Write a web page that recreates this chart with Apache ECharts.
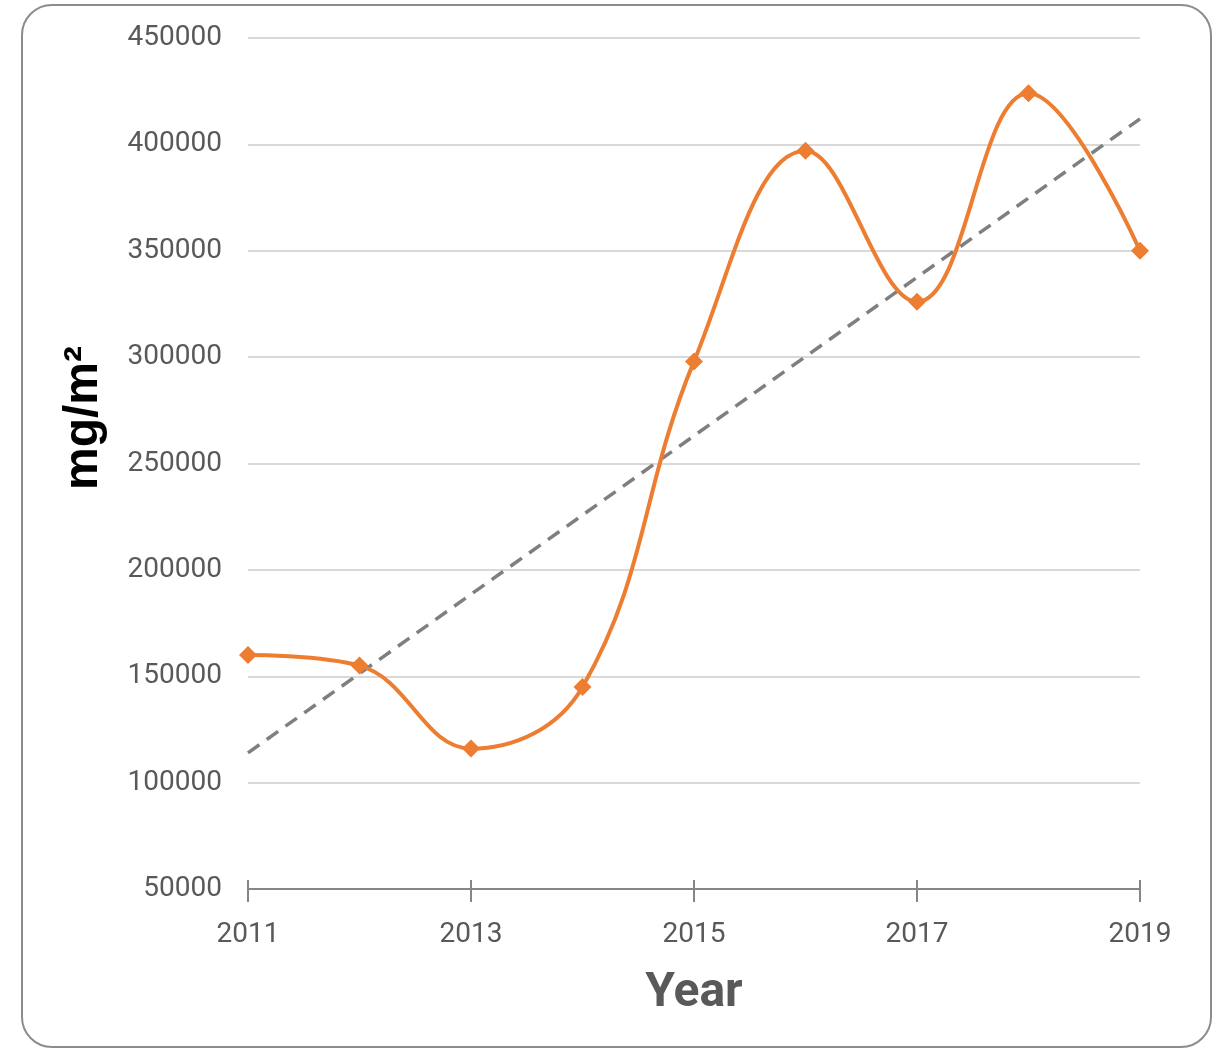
<!DOCTYPE html>
<html>
<head>
<meta charset="utf-8">
<script src="https://cdn.jsdelivr.net/npm/echarts@6/dist/echarts.min.js"></script>
<style>
  html, body { margin: 0; padding: 0; background: #fff; }
  #main { width: 1218px; height: 1050px; }
</style>
</head>
<body>
<div id="main"></div>
<script>
  // data
  const years = ['2011', '2012', '2013', '2014', '2015', '2016', '2017', '2018', '2019']
  const values = [160000, 155000, 116000, 145000, 298000, 397000, 326000, 424000, 350000]
  // linear trend, ends only (middle left empty and joined)
  const trend = [114000, null, null, null, null, null, null, null, 412000]

  const labelFont = 'Roboto'
  var myChart = echarts.init(document.getElementById('main'))

  var option = {
    backgroundColor: '#fff',
    animation: false,
    graphic: [{
      type: 'rect',
      shape: { x: 22, y: 5, width: 1189, height: 1042, r: 30 },
      style: { fill: 'none', stroke: '#8c8c8c', lineWidth: 2 },
      z: -1
    }, {
      // y axis title, sits a bit above the middle of the plot
      type: 'text',
      x: 84,
      y: 418,
      rotation: Math.PI / 2,
      style: {
        text: 'mg/m²',
        align: 'center',
        verticalAlign: 'middle',
        font: 'bold 48px "Liberation Sans"',
        fill: '#000'
      }
    }],
    grid: { left: 248, right: 78, top: 38, bottom: 161 },
    xAxis: [{
      type: 'category',
      data: years,
      boundaryGap: false,
      name: 'Year',
      nameLocation: 'middle',
      nameGap: 81,
      nameTextStyle: { fontFamily: labelFont, fontSize: 48, fontWeight: 'bold', color: '#595959' },
      axisLine: { lineStyle: { color: '#868686', width: 2 } },
      axisTick: { interval: 1, length: 13, lineStyle: { color: '#868686', width: 2 } },
      axisLabel: { interval: 1, margin: 32, fontFamily: labelFont, fontSize: 28, color: '#595959' },
      splitLine: { show: false }
    }, {
      // second axis only for the upper half of the tick marks
      type: 'category',
      data: years,
      boundaryGap: false,
      position: 'bottom',
      axisLine: { show: false },
      axisTick: { inside: true, interval: 1, length: 9, lineStyle: { color: '#868686', width: 2 } },
      axisLabel: { show: false },
      splitLine: { show: false }
    }],
    yAxis: {
      type: 'value',
      min: 50000,
      max: 450000,
      interval: 50000,
      axisLine: { show: false },
      axisTick: { show: false },
      axisLabel: {
        margin: 26, fontFamily: labelFont, fontSize: 28, color: '#595959',
        formatter: function (v) { return String(v) }
      },
      splitLine: { lineStyle: { color: '#d9d9d9', width: 2 } }
    },
    series: [{
      name: 'mg/m2',
      type: 'line',
      data: values,
      smooth: 0.4,
      symbol: 'diamond',
      symbolSize: 18,
      itemStyle: { color: '#ed7d31' },
      lineStyle: { color: '#ed7d31', width: 4 },
      z: 3
    }, {
      name: 'trend',
      type: 'line',
      data: trend,
      connectNulls: true,
      showSymbol: false,
      lineStyle: { color: '#7f7f7f', width: 3.5, type: [14, 9] },
      z: 2
    }]
  }
  myChart.setOption(option)
</script>
</body>
</html>
